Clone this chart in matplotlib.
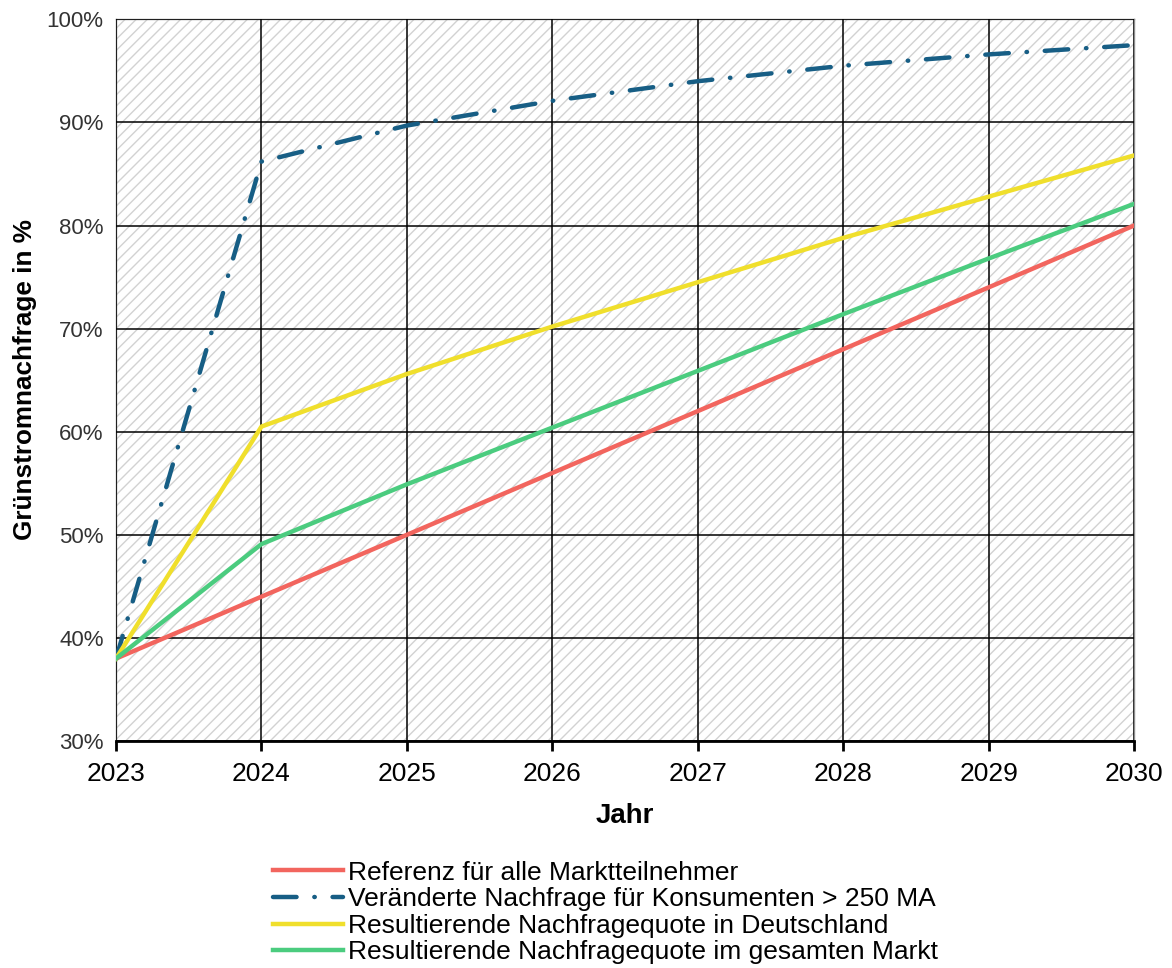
import matplotlib.pyplot as plt
from matplotlib.patches import Rectangle
from matplotlib.ticker import FuncFormatter

plt.rcParams['font.family'] = ['Liberation Sans', 'DejaVu Sans']
plt.rcParams['hatch.linewidth'] = 1.0

years = [2023, 2024, 2025, 2026, 2027, 2028, 2029, 2030]

referenz = [38.0, 44.0, 50.0, 56.0, 62.0, 68.0, 74.0, 80.0]
konsumenten = [38.0, 86.2, 89.7, 92.1, 94.0, 95.5, 96.6, 97.5]
deutschland = [38.0, 60.5, 65.6, 70.2, 74.5, 78.8, 82.8, 86.8]
gesamt = [38.0, 49.1, 54.9, 60.4, 65.9, 71.4, 76.8, 82.1]

labels = [
    'Referenz für alle Marktteilnehmer',
    'Veränderte Nachfrage für Konsumenten > 250 MA',
    'Resultierende Nachfragequote in Deutschland',
    'Resultierende Nachfragequote im gesamten Markt',
]

fig = plt.figure(figsize=(11.72, 9.68), dpi=100)
ax = fig.add_axes([0.099, 0.2345, 0.8686, 0.7455])

# hatched plot background
ax.add_patch(Rectangle((0, 0), 1, 1, transform=ax.transAxes, facecolor='white',
                       edgecolor='#d2d2d2', linewidth=0, hatch='///', zorder=0))

ax.plot(years, referenz, color='#f2655e', lw=3.2, label=labels[0], zorder=3)
ax.plot(years, konsumenten, color='#175e85', lw=3.2, dashes=(5.3, 4.0, 0.1, 4.0),
        dash_capstyle='round', label=labels[1], zorder=3)
ax.plot(years, deutschland, color='#f0df2c', lw=3.2, label=labels[2], zorder=3)
ax.plot(years, gesamt, color='#4bcc7f', lw=3.2, label=labels[3], zorder=3)

ax.set_xlim(2023, 2030)
ax.set_ylim(30, 100)
ax.set_xticks(years)
ax.set_yticks(range(30, 101, 10))
ax.yaxis.set_major_formatter(FuncFormatter(lambda v, p: f'{v:.0f}%'))
ax.grid(True, color='black', lw=1.1, zorder=1)
ax.set_axisbelow(False)

for s in ['top', 'right', 'left']:
    ax.spines[s].set_color('#8c8c8c')
    ax.spines[s].set_linewidth(1.0)
ax.spines['bottom'].set_color('black')
ax.spines['bottom'].set_linewidth(2.0)

ax.tick_params(axis='x', direction='out', length=7, width=2, labelsize=19, pad=8)
ax.tick_params(axis='y', length=0, labelsize=16, pad=9, labelcolor='#333333')

ax.set_xlabel('Jahr', fontsize=20, fontweight='bold', labelpad=12)
ax.set_ylabel('Grünstromnachfrage in %', fontsize=18.8, fontweight='bold')
ax.yaxis.set_label_coords(-0.0776, 0.501)

fig.legend(loc='upper left', bbox_to_anchor=(0.233, 0.111), frameon=False,
           fontsize=19, handlelength=2.65, handletextpad=0.2, labelspacing=0.1,
           borderaxespad=0, borderpad=0)

fig.savefig('out.png', dpi=100)
